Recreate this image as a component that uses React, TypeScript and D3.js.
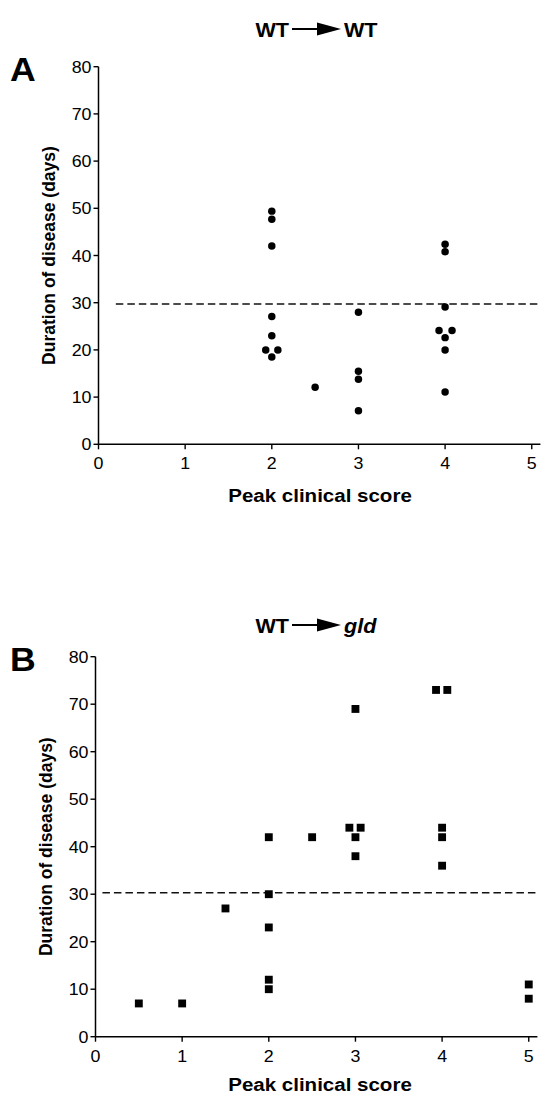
import * as d3 from 'd3'

// x = peak clinical score (small offsets where dots sit side by side), y = duration in days
const X_TICKS = [0, 1, 2, 3, 4, 5]
const Y_TICKS = [0, 10, 20, 30, 40, 50, 60, 70, 80]
const A_SCORE = [2, 2, 2, 2, 2, 1.93, 2.07, 2, 2.5, 3, 3, 3, 3, 4, 4, 4, 3.93, 4.08, 4, 4, 4]
const A_DAYS = [49.4, 47.7, 42, 27.1, 23, 20, 20, 18.5, 12.1, 28, 15.5, 13.8, 7.1, 42.4, 40.8, 29.1, 24.1, 24.1, 22.6, 20, 11.1]
const A_CUTOFF = 29.7
const B_SCORE = [0.5, 1, 1.5, 2, 2, 2, 2, 2, 2.5, 3, 2.93, 3.06, 3, 3, 3.93, 4.06, 4, 4, 4, 5, 5]
const B_DAYS = [7, 7, 27, 42, 30, 23, 12, 10, 42, 69, 44, 44, 42, 38, 73, 73, 44, 42, 36, 11, 8]
const B_CUTOFF = 30.3

const FONT = 'Liberation Sans, Arial, Helvetica, sans-serif'
const SX = 1.08 // the scan is a bit wide, text too

function T({ x, y, size, anchor = 'start', bold = false, italic = false, children }: any) {
  return (
    <text transform={`translate(${x},${y}) scale(${SX},1)`} textAnchor={anchor}
      fontFamily={FONT} fontSize={size} fontWeight={bold ? 'bold' : 'normal'}
      fontStyle={italic ? 'italic' : 'normal'} fill="#000">{children}</text>
  )
}

function Panel({ letter, right, italicRight, scores, days, cutoff, cutFrom, left, top, bottom, symbol, symSize, titleY, xTitleGap }: any) {
  const x = d3.scaleLinear().domain([0, 5.1]).range([left, left + 5.1 * 86.65])
  const y = d3.scaleLinear().domain([0, 80]).range([bottom, top])
  const sym = d3.symbol().type(symbol).size(symSize)
  const pts = d3.zip(scores, days) as [number, number][]
  const cx = 317
  return (
    <g>
      {/* title with arrow */}
      <T x={cx - 28} y={titleY} size={20} anchor="end" bold>WT</T>
      <line x1={cx - 25} x2={cx + 4} y1={titleY - 8} y2={titleY - 8} stroke="#000" strokeWidth={2} />
      <path d={`M${cx},${titleY - 14.5}L${cx + 24},${titleY - 8}L${cx},${titleY - 1.5}Z`} fill="#000" />
      <T x={cx + 27} y={titleY} size={20} bold italic={italicRight}>{right}</T>
      <T x={10} y={top + 14} size={33} bold>{letter}</T>

      {/* axes */}
      <line x1={x(0)} x2={x(0)} y1={y(80)} y2={y(0)} stroke="#000" strokeWidth={1.5} />
      <line x1={x(0)} x2={x(5.1)} y1={y(0)} y2={y(0)} stroke="#000" strokeWidth={1.5} />
      {Y_TICKS.map(t => (
        <g key={'y' + t}>
          <line x1={x(0) - 5} x2={x(0)} y1={y(t)} y2={y(t)} stroke="#000" strokeWidth={1.4} />
          <T x={x(0) - 7} y={y(t) + 6} size={16.5} anchor="end">{t}</T>
        </g>
      ))}
      {X_TICKS.map(t => (
        <g key={'x' + t}>
          <line x1={x(t)} x2={x(t)} y1={y(0)} y2={y(0) + 5} stroke="#000" strokeWidth={1.4} />
          <T x={x(t)} y={y(0) + 25} size={16.5} anchor="middle">{t}</T>
        </g>
      ))}
      <T x={320} y={y(0) + xTitleGap} size={19} anchor="middle" bold>Peak clinical score</T>
      <text transform={`translate(${x(0) - 44},${(y(0) + y(80)) / 2}) rotate(-90)`} textAnchor="middle"
        fontFamily={FONT} fontSize={17.5} fontWeight="bold" fill="#000">Duration of disease (days)</text>

      {/* cutoff */}
      <line x1={x(cutFrom)} x2={x(5.1)} y1={y(cutoff)} y2={y(cutoff)} stroke="#111" strokeWidth={1.5} strokeDasharray="7.5,4" />

      {pts.map(([s, d], i) => (
        <path key={i} d={sym() as string} transform={`translate(${x(s)},${y(d)})`} fill="#000" />
      ))}
    </g>
  )
}

export default function App() {
  return (
    <svg width={548} height={1098} style={{ position: 'absolute', left: 0, top: 0, background: '#fff' }}>
      <rect width={548} height={1098} fill="#fff" />
      <Panel letter="A" right="WT" scores={A_SCORE} days={A_DAYS} cutoff={A_CUTOFF} cutFrom={0.2}
        left={98.5} top={66.7} bottom={444.3} symbol={d3.symbolCircle} symSize={44} titleY={37} xTitleGap={58} />
      <Panel letter="B" right="gld" italicRight scores={B_SCORE} days={B_DAYS} cutoff={B_CUTOFF} cutFrom={0.08}
        left={95.5} top={656.7} bottom={1036.7} symbol={d3.symbolSquare} symSize={62} titleY={633} xTitleGap={54} />
    </svg>
  )
}
